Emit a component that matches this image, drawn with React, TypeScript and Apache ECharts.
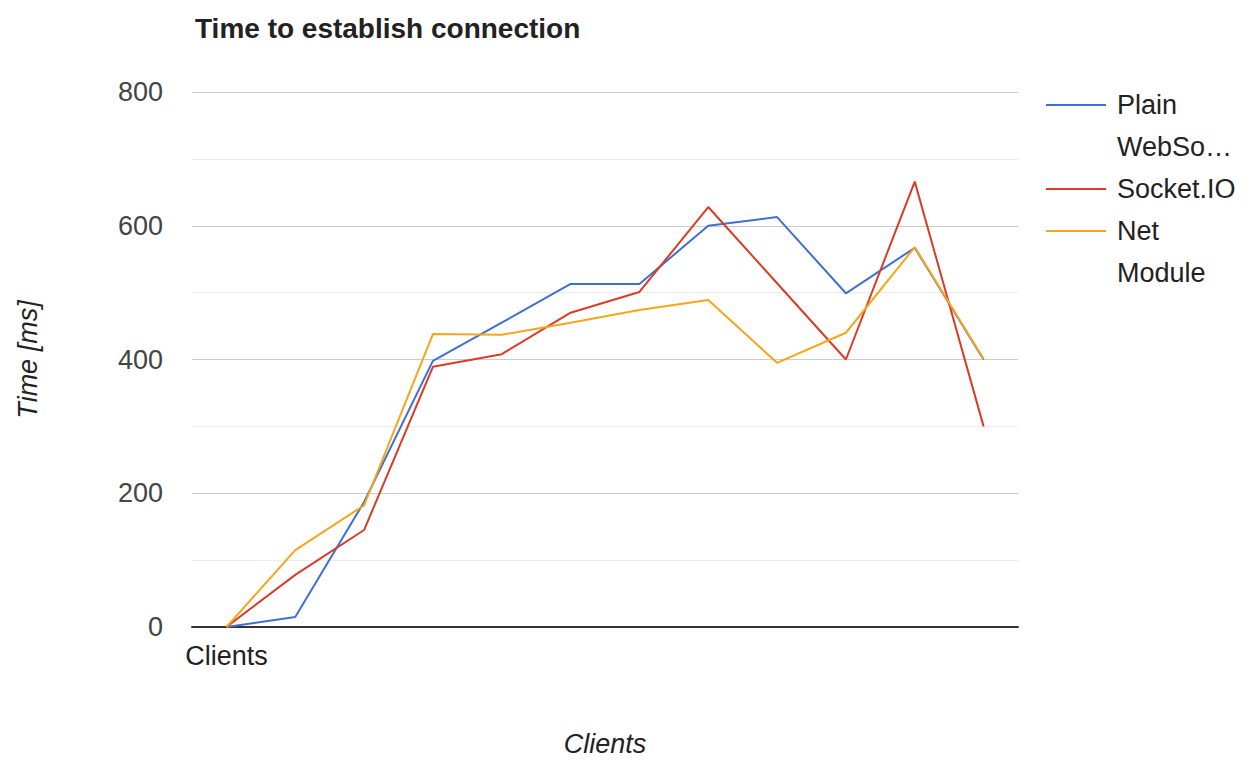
import React, { useEffect, useRef } from "react";
import * as echarts from "echarts";

const categories = ["Clients", "", "", "", "", "", "", "", "", "", "", ""];
const plainWebSocket = [0, 15, 187, 398, 455, 513, 513, 600, 613, 499, 567, 400];
const socketIO = [0, 78, 145, 389, 408, 470, 501, 628, 514, 400, 666, 300];
const netModule = [0, 115, 182, 438, 437, 455, 474, 489, 395, 440, 568, 401];
const seriesNames = ["Plain WebSocket", "Socket.IO", "Net Module"];
const legendLabels = ["Plain\nWebSo…", "Socket.IO", "Net\nModule"];
const colors = ["#3f6fcf", "#db3b26", "#f7a51c"];

const FONT = '"Liberation Sans", Arial, sans-serif';

export default function App() {
  const ref = useRef<HTMLDivElement>(null);
  useEffect(() => {
    if (!ref.current) return;
    const chart = echarts.init(ref.current, undefined, { renderer: "svg" });
    const iconY = [105, 189, 231];
    const mkLegend = (i: number) => {
      const twoLine = legendLabels[i].includes("\n");
      // two-line labels get a blank leading line so the first line sits on the icon
      const top = twoLine ? iconY[i] - 63 : iconY[i] - 21;
      return {
        data: [{ name: seriesNames[i] }],
        left: 1046,
        top,
        padding: 0,
        orient: "vertical",
        icon: "rect",
        itemWidth: 60,
        itemHeight: 2,
        selectedMode: false,
        formatter: () => (twoLine ? "\n" + legendLabels[i] : legendLabels[i]),
        textStyle: {
          fontFamily: FONT,
          fontSize: 27,
          lineHeight: 42,
          color: "#222",
          padding: [0, 0, 0, 6],
        },
      };
    };
    const mkSeries = (i: number, data: number[]) => ({
      name: seriesNames[i],
      type: "line",
      data,
      showSymbol: false,
      symbol: "none",
      lineStyle: { width: 2, color: colors[i] },
      itemStyle: { color: colors[i] },
    });
    chart.setOption({
      animation: false,
      color: colors,
      title: {
        text: "Time to establish connection",
        left: 195,
        top: 14,
        padding: 0,
        textStyle: { fontFamily: FONT, fontSize: 28, fontWeight: "bold", color: "#222" },
      },
      legend: [mkLegend(0), mkLegend(1), mkLegend(2)],
      grid: { left: 192, right: 235, top: 92, bottom: 135, containLabel: false },
      xAxis: {
        type: "category",
        data: categories,
        boundaryGap: true,
        name: "Clients",
        nameLocation: "middle",
        nameGap: 103,
        nameTextStyle: { fontFamily: FONT, fontSize: 27, fontStyle: "italic", color: "#222" },
        axisLine: { show: true, lineStyle: { color: "#333", width: 2 } },
        axisTick: { show: false },
        axisLabel: { fontFamily: FONT, fontSize: 27, color: "#222", margin: 15, interval: 0 },
        splitLine: { show: false },
      },
      yAxis: {
        type: "value",
        min: 0,
        max: 800,
        interval: 200,
        name: "Time [ms]",
        nameLocation: "middle",
        nameGap: 151,
        nameTextStyle: { fontFamily: FONT, fontSize: 27, fontStyle: "italic", color: "#222" },
        axisLine: { show: false },
        axisTick: { show: false },
        axisLabel: { fontFamily: FONT, fontSize: 27, color: "#444", margin: 29 },
        splitLine: { show: true, lineStyle: { color: "#cccccc", width: 1 } },
        minorTick: { show: false, splitNumber: 2 },
        minorSplitLine: { show: true, lineStyle: { color: "#ebebeb", width: 1 } },
      },
      series: [
        mkSeries(0, plainWebSocket),
        mkSeries(1, socketIO),
        mkSeries(2, netModule),
      ],
    });
    return () => chart.dispose();
  }, []);
  return (
    <div
      ref={ref}
      style={{ position: "fixed", left: 0, top: 0, width: 1253, height: 762, background: "#fff" }}
    />
  );
}
